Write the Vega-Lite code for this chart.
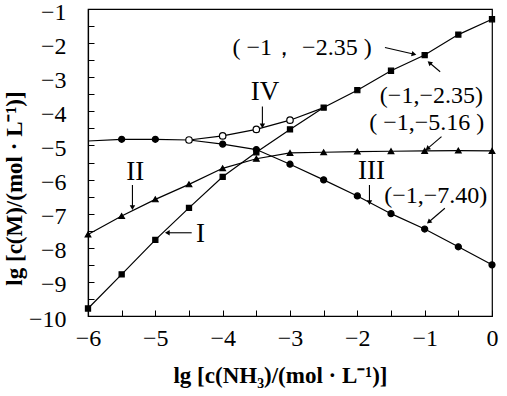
{
  "$schema": "https://vega.github.io/schema/vega-lite/v6.json",
  "width": 404,
  "height": 307,
  "autosize": {"type": "none"},
  "padding": {"left": 88, "top": 9, "right": 15, "bottom": 80},
  "background": "white",
  "config": {
    "view": {"stroke": "black", "strokeWidth": 1.2},
    "font": "Liberation Serif",
    "axis": {
      "grid": false,
      "domainColor": "black",
      "domainWidth": 1.2,
      "tickColor": "black",
      "tickWidth": 1,
      "tickSize": -6,
      "labelFont": "Liberation Serif",
      "labelFontSize": 24,
      "labelColor": "black",
      "labelFlush": false,
      "labelOverlap": false,
      "titleFont": "Liberation Serif",
      "titleFontSize": 23,
      "titleFontWeight": "bold",
      "titleColor": "black"
    }
  },
  "datasets": {
    "curves": [
      {"series": "I", "x": -6, "y": -9.78}, {"series": "I", "x": -5.5, "y": -8.78}, {"series": "I", "x": -5, "y": -7.77},
      {"series": "I", "x": -4.5, "y": -6.83}, {"series": "I", "x": -4, "y": -5.92}, {"series": "I", "x": -3.5, "y": -5.2},
      {"series": "I", "x": -3, "y": -4.53}, {"series": "I", "x": -2.5, "y": -3.89}, {"series": "I", "x": -2, "y": -3.38},
      {"series": "I", "x": -1.5, "y": -2.81}, {"series": "I", "x": -1, "y": -2.35}, {"series": "I", "x": -0.5, "y": -1.75},
      {"series": "I", "x": 0, "y": -1.3},
      {"series": "II", "x": -6, "y": -7.61}, {"series": "II", "x": -5.5, "y": -7.07}, {"series": "II", "x": -5, "y": -6.58},
      {"series": "II", "x": -4.5, "y": -6.14}, {"series": "II", "x": -4, "y": -5.67}, {"series": "II", "x": -3.5, "y": -5.39},
      {"series": "II", "x": -3, "y": -5.22}, {"series": "II", "x": -2.5, "y": -5.2}, {"series": "II", "x": -2, "y": -5.18},
      {"series": "II", "x": -1.5, "y": -5.17}, {"series": "II", "x": -1, "y": -5.16}, {"series": "II", "x": -0.5, "y": -5.15},
      {"series": "II", "x": 0, "y": -5.16},
      {"series": "III", "x": -6, "y": -4.87}, {"series": "III", "x": -5.5, "y": -4.82}, {"series": "III", "x": -5, "y": -4.82},
      {"series": "III", "x": -4.5, "y": -4.84}, {"series": "III", "x": -4, "y": -4.96}, {"series": "III", "x": -3.5, "y": -5.12},
      {"series": "III", "x": -3, "y": -5.55}, {"series": "III", "x": -2.5, "y": -6.01}, {"series": "III", "x": -2, "y": -6.48},
      {"series": "III", "x": -1.5, "y": -7.0}, {"series": "III", "x": -1, "y": -7.45}, {"series": "III", "x": -0.5, "y": -7.97},
      {"series": "III", "x": 0, "y": -8.5},
      {"series": "IV", "x": -4.5, "y": -4.84}, {"series": "IV", "x": -4, "y": -4.72}, {"series": "IV", "x": -3.5, "y": -4.53},
      {"series": "IV", "x": -3, "y": -4.26}, {"series": "IV", "x": -2.5, "y": -3.89}
    ],
    "points": [
      {"series": "I", "x": -6, "y": -9.78}, {"series": "I", "x": -5.5, "y": -8.78}, {"series": "I", "x": -5, "y": -7.77},
      {"series": "I", "x": -4.5, "y": -6.83}, {"series": "I", "x": -4, "y": -5.92}, {"series": "I", "x": -3.5, "y": -5.2},
      {"series": "I", "x": -3, "y": -4.53}, {"series": "I", "x": -2.5, "y": -3.89}, {"series": "I", "x": -2, "y": -3.38},
      {"series": "I", "x": -1.5, "y": -2.81}, {"series": "I", "x": -1, "y": -2.35}, {"series": "I", "x": -0.5, "y": -1.75},
      {"series": "I", "x": 0, "y": -1.3},
      {"series": "II", "x": -6, "y": -7.61}, {"series": "II", "x": -5.5, "y": -7.07}, {"series": "II", "x": -5, "y": -6.58},
      {"series": "II", "x": -4.5, "y": -6.14}, {"series": "II", "x": -4, "y": -5.67}, {"series": "II", "x": -3.5, "y": -5.39},
      {"series": "II", "x": -3, "y": -5.22}, {"series": "II", "x": -2.5, "y": -5.2}, {"series": "II", "x": -2, "y": -5.18},
      {"series": "II", "x": -1.5, "y": -5.17}, {"series": "II", "x": -1, "y": -5.16}, {"series": "II", "x": -0.5, "y": -5.15},
      {"series": "II", "x": 0, "y": -5.16},
      {"series": "III", "x": -5.5, "y": -4.82}, {"series": "III", "x": -5, "y": -4.82},
      {"series": "III", "x": -4, "y": -4.96}, {"series": "III", "x": -3.5, "y": -5.12},
      {"series": "III", "x": -3, "y": -5.55}, {"series": "III", "x": -2.5, "y": -6.01}, {"series": "III", "x": -2, "y": -6.48},
      {"series": "III", "x": -1.5, "y": -7.0}, {"series": "III", "x": -1, "y": -7.45}, {"series": "III", "x": -0.5, "y": -7.97},
      {"series": "III", "x": 0, "y": -8.5},
      {"series": "IV", "x": -4.5, "y": -4.84}, {"series": "IV", "x": -4, "y": -4.72}, {"series": "IV", "x": -3.5, "y": -4.53},
      {"series": "IV", "x": -3, "y": -4.26}
    ],
    "labels": [
      {"text": "( −1，  −2.35 )", "x": -2.82, "y": -2.14, "size": "a"},
      {"text": "(−1,−2.35)", "x": -0.9, "y": -3.54, "size": "a"},
      {"text": "( −1,−5.16 )", "x": -0.97, "y": -4.35, "size": "a"},
      {"text": "(−1,−7.40)", "x": -0.835, "y": -6.47, "size": "a"},
      {"text": "III", "x": -1.79, "y": -5.75, "size": "r"},
      {"text": "IV", "x": -3.37, "y": -3.43, "size": "r"},
      {"text": "II", "x": -5.3, "y": -5.78, "size": "r"},
      {"text": "I", "x": -4.33, "y": -7.6, "size": "r"}
    ],
    "arrows": [
      {"x": -1.59, "y": -2.13, "x2": -1.17, "y2": -2.32},
      {"x": -0.77, "y": -2.84, "x2": -0.92, "y2": -2.59},
      {"x": -0.75, "y": -4.74, "x2": -0.95, "y2": -5.08},
      {"x": -1.82, "y": -6.16, "x2": -1.82, "y2": -6.65},
      {"x": -0.7, "y": -6.84, "x2": -0.93, "y2": -7.23},
      {"x": -3.41, "y": -3.86, "x2": -3.41, "y2": -4.4},
      {"x": -5.34, "y": -6.16, "x2": -5.34, "y2": -6.8},
      {"x": -4.46, "y": -7.56, "x2": -4.81, "y2": -7.56}
    ]
  },
  "encoding": {
    "x": {
      "field": "x", "type": "quantitative",
      "scale": {"domain": [-6, 0], "nice": false, "zero": false},
      "axis": {
        "values": [-6, -5.5, -5, -4.5, -4, -3.5, -3, -2.5, -2, -1.5, -1, -0.5, 0],
        "labelExpr": "datum.value == floor(datum.value) ? format(datum.value, 'd') : ''",
        "labelPadding": 16,
        "labelOverlap": false,
        "title": "lg [c(NH₃)/(mol · L⁻¹)]",
        "titleX": 192, "titleY": 59, "titleBaseline": "middle"
      }
    },
    "y": {
      "field": "y", "type": "quantitative",
      "scale": {"domain": [-10, -1], "nice": false, "zero": false},
      "axis": {
        "values": [-10, -9.5, -9, -8.5, -8, -7.5, -7, -6.5, -6, -5.5, -5, -4.5, -4, -3.5, -3, -2.5, -2, -1.5, -1],
        "labelExpr": "datum.value == floor(datum.value) ? format(datum.value, 'd') : ''",
        "labelPadding": 28,
        "labelOffset": 3,
        "labelOverlap": false,
        "labelBound": false,
        "title": "lg [c(M)/(mol · L⁻¹)]",
        "titleX": -74, "titleY": 179, "titleBaseline": "middle", "titleAngle": -90
      }
    }
  },
  "layer": [
    {
      "data": {"name": "curves"},
      "mark": {"type": "line", "color": "black", "strokeWidth": 1.2},
      "encoding": {
        "detail": {"field": "series", "type": "nominal"}
      }
    },
    {
      "data": {"name": "points"},
      "mark": {"type": "point", "filled": false, "stroke": "black", "strokeWidth": 1.2, "opacity": 1},
      "encoding": {
        "shape": {"field": "series", "type": "nominal", "legend": null,
          "scale": {"domain": ["I", "II", "III", "IV"], "range": ["square", "triangle-up", "circle", "circle"]}},
        "fill": {"field": "series", "type": "nominal", "legend": null,
          "scale": {"domain": ["I", "II", "III", "IV"], "range": ["black", "black", "black", "white"]}},
        "size": {"field": "series", "type": "ordinal", "legend": null,
          "scale": {"domain": ["I", "II", "III", "IV"], "range": [26, 42, 64, 60]}}
      }
    },
    {
      "data": {"name": "arrows"},
      "mark": {"type": "rule", "color": "black", "strokeWidth": 1.1},
      "encoding": {
        "x2": {"field": "x2"},
        "y2": {"field": "y2"}
      }
    },
    {
      "data": {"name": "arrows"},
      "transform": [
        {"calculate": "atan2((datum.x2 - datum.x) * 67.33, (datum.y2 - datum.y) * 34.11) * 180 / PI", "as": "ang"}
      ],
      "mark": {"type": "point", "shape": "triangle", "filled": true, "color": "black", "size": 30, "opacity": 1},
      "encoding": {
        "x": {"field": "x2", "type": "quantitative"},
        "y": {"field": "y2", "type": "quantitative"},
        "angle": {"field": "ang", "type": "quantitative", "scale": null}
      }
    },
    {
      "data": {"name": "labels"},
      "transform": [{"filter": "datum.size == 'a'"}],
      "mark": {"type": "text", "font": "Liberation Serif", "fontSize": 24, "color": "black", "align": "center", "baseline": "middle"},
      "encoding": {
        "text": {"field": "text", "type": "nominal"}
      }
    },
    {
      "data": {"name": "labels"},
      "transform": [{"filter": "datum.size == 'r'"}],
      "mark": {"type": "text", "font": "Liberation Serif", "fontSize": 27, "color": "black", "align": "center", "baseline": "middle"},
      "encoding": {
        "text": {"field": "text", "type": "nominal"}
      }
    }
  ]
}
